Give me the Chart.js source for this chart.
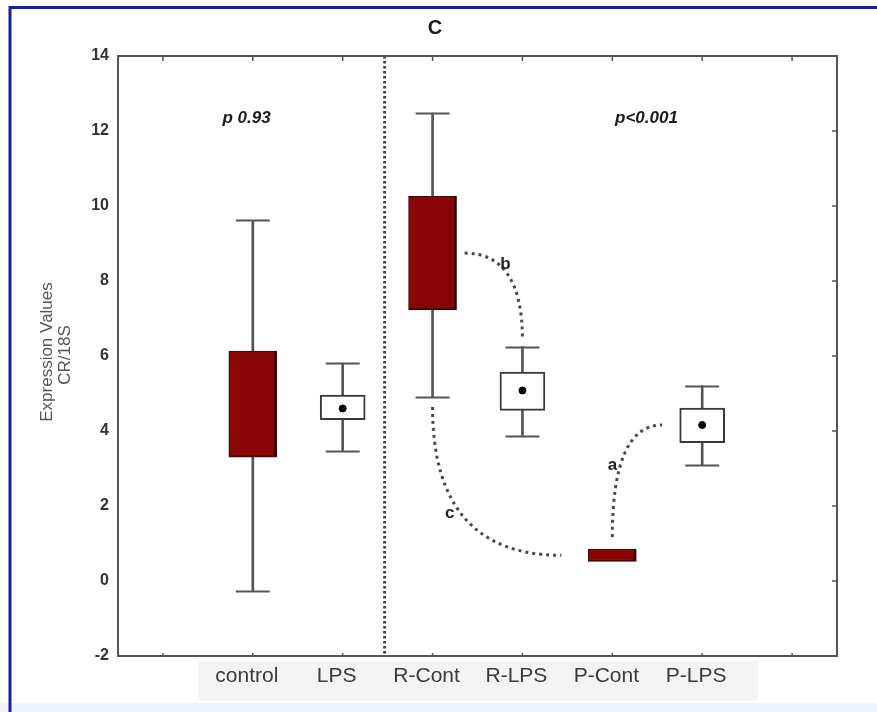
<!DOCTYPE html>
<html>
<head>
<meta charset="utf-8">
<script src="https://cdn.jsdelivr.net/npm/chart.js@4"></script>
<style>
  html, body { margin: 0; padding: 0; background: #fff; }
  canvas { display: block; }
</style>
</head>
<body>
<canvas id="boxChart" width="877" height="712"></canvas>
<script>
// categories (empty slots at both ends, like the original axis)
const categorias = ['', 'control', 'LPS', 'R-Cont', 'R-LPS', 'P-Cont', 'P-LPS', ''];
// whiskers
const minimos = [null, -0.27, 3.46, 4.91, 3.88, null, 3.09, null];
const maximos = [null, 9.62, 5.81, 12.48, 6.25, null, 5.21, null];
// boxes
const caixaBaixo = [null, 3.30, 4.30, 7.23, 4.55, 0.52, 3.69, null];
const caixaCima = [null, 6.13, 4.96, 10.26, 5.57, 0.85, 4.61, null];
// mean dot (only on the white boxes)
const medias = [null, null, 4.60, null, 5.08, null, 4.16, null];
// red (filled) or white box
const preenchida = [false, true, false, true, false, true, false, false];

const yTicks = [-2, 0, 2, 4, 6, 8, 10, 12, 14];
const titulo = 'C';
const tituloY = ['Expression Values', 'CR/18S'];
const pValores = ['p 0.93', 'p<0.001'];
const letras = ['b', 'c', 'a'];

const fonte = '"Liberation Sans", Arial, sans-serif';

const extras = {
  id: 'extras',
  beforeDraw(chart) {
    const c = chart.ctx;
    c.save();
    c.fillStyle = '#fff';
    c.fillRect(0, 0, chart.width, chart.height);
    // light band at the bottom
    c.fillStyle = '#eef3fb';
    c.fillRect(0, 703, chart.width, chart.height - 703);
    // grey band behind the category labels
    c.fillStyle = '#f3f3f3';
    c.fillRect(198, 661, 560, 39);
    // blue frame
    c.strokeStyle = '#1c1f9c';
    c.lineWidth = 3;
    c.beginPath();
    c.moveTo(10, chart.height);
    c.lineTo(10, 7.5);
    c.lineTo(chart.width, 7.5);
    c.stroke();
    c.restore();
  },
  afterDatasetsDraw(chart) {
    const c = chart.ctx;
    const a = chart.chartArea;
    const x = chart.scales.x;
    const y = chart.scales.y;
    c.save();

    // whisker caps
    c.strokeStyle = '#555';
    c.lineWidth = 2;
    for (let i = 0; i < categorias.length; i++) {
      if (minimos[i] == null) continue;
      const px = x.getPixelForValue(i);
      [minimos[i], maximos[i]].forEach(v => {
        const py = Math.round(y.getPixelForValue(v)) + 0.5;
        c.beginPath();
        c.moveTo(px - 17, py);
        c.lineTo(px + 17, py);
        c.stroke();
      });
    }

    // dotted connectors
    const rc = x.getPixelForValue(3);
    const rl = x.getPixelForValue(4);
    const pc = x.getPixelForValue(5);
    const pl = x.getPixelForValue(6);
    const curvas = [
      {
        s: { x: rc + 32, y: y.getPixelForValue((caixaBaixo[3] + caixaCima[3]) / 2) },
        e: { x: rl, y: y.getPixelForValue(maximos[4]) - 7 },
        ctrlHoriz: true, t: 0.33, dx: 9, dy: 2
      },
      {
        s: { x: rc, y: y.getPixelForValue(minimos[3]) + 10 },
        e: { x: pc - 51, y: y.getPixelForValue((caixaBaixo[5] + caixaCima[5]) / 2) },
        ctrlHoriz: false, t: 0.5, dx: -15, dy: -5
      },
      {
        s: { x: pc, y: y.getPixelForValue(caixaCima[5]) - 12 },
        e: { x: pl - 40, y: y.getPixelForValue(medias[6]) },
        ctrlHoriz: false, t: 0.35, dx: -6, dy: -7
      }
    ];
    c.strokeStyle = '#4a4a4a';
    c.lineWidth = 3;
    c.setLineDash([3, 4]);
    curvas.forEach((cv, k) => {
      const ctrl = cv.ctrlHoriz ? { x: cv.e.x, y: cv.s.y } : { x: cv.s.x, y: cv.e.y };
      c.beginPath();
      c.moveTo(cv.s.x, cv.s.y);
      c.quadraticCurveTo(ctrl.x, ctrl.y, cv.e.x, cv.e.y);
      c.stroke();
      const t = cv.t, u = 1 - t;
      const lx = u * u * cv.s.x + 2 * u * t * ctrl.x + t * t * cv.e.x;
      const ly = u * u * cv.s.y + 2 * u * t * ctrl.y + t * t * cv.e.y;
      c.save();
      c.setLineDash([]);
      c.fillStyle = '#222';
      c.font = 'bold 17px ' + fonte;
      c.textAlign = 'center';
      c.textBaseline = 'middle';
      c.fillText(letras[k], lx + cv.dx, ly + cv.dy);
      c.restore();
    });

    // vertical dotted divider between LPS and R-Cont
    const xd = (x.getPixelForValue(2) + x.getPixelForValue(3)) / 2 - 3;
    c.strokeStyle = '#444';
    c.lineWidth = 3;
    c.setLineDash([2.5, 2.5]);
    c.beginPath();
    c.moveTo(xd, a.top);
    c.lineTo(xd, a.bottom);
    c.stroke();
    c.setLineDash([]);

    // plot frame
    c.strokeStyle = '#555';
    c.lineWidth = 2;
    c.strokeRect(a.left, a.top, a.right - a.left, a.bottom - a.top);

    // inner tick marks
    c.lineWidth = 1.5;
    for (let i = 0; i < categorias.length; i++) {
      const px = x.getPixelForValue(i);
      c.beginPath();
      c.moveTo(px, a.top);
      c.lineTo(px, a.top + 5);
      c.moveTo(px, a.bottom);
      c.lineTo(px, a.bottom - 3);
      c.stroke();
    }
    yTicks.forEach(v => {
      const py = y.getPixelForValue(v);
      c.beginPath();
      c.moveTo(a.right, py);
      c.lineTo(a.right - 5, py);
      c.stroke();
    });

    // p-values
    c.fillStyle = '#1a1a1a';
    c.font = 'italic bold 17px ' + fonte;
    c.textAlign = 'center';
    c.textBaseline = 'middle';
    c.fillText(pValores[0], x.getPixelForValue(0.93), y.getPixelForValue(12.35));
    c.fillText(pValores[1], x.getPixelForValue(5.38), y.getPixelForValue(12.35));
    c.restore();
  },
  afterDraw(chart) {
    const c = chart.ctx;
    c.save();
    c.fillStyle = '#1a1a1a';
    c.font = 'bold 20px ' + fonte;
    c.textAlign = 'center';
    c.textBaseline = 'middle';
    c.fillText(titulo, 435, 28);

    c.fillStyle = '#555';
    c.font = '17px ' + fonte;
    c.translate(47, 352);
    c.rotate(-Math.PI / 2);
    c.fillText(tituloY[0], 0, 0);
    c.fillText(tituloY[1], -3, 18);
    c.restore();
  }
};

const dadosWhisker = categorias.map((_, i) => minimos[i] == null ? null : [minimos[i], maximos[i]]);
const dadosVermelho = categorias.map((_, i) => caixaBaixo[i] != null && preenchida[i] ? [caixaBaixo[i], caixaCima[i]] : null);
const dadosBranco = categorias.map((_, i) => caixaBaixo[i] != null && !preenchida[i] ? [caixaBaixo[i], caixaCima[i]] : null);

const ctx = document.getElementById('boxChart').getContext('2d');
new Chart(ctx, {
  type: 'bar',
  data: {
    labels: categorias,
    datasets: [
      {
        label: 'whisker',
        data: dadosWhisker,
        backgroundColor: '#555',
        barThickness: 2,
        grouped: false,
        order: 3
      },
      {
        label: 'caixa vermelha',
        data: dadosVermelho,
        backgroundColor: '#8a0505',
        borderColor: '#3a0808',
        borderWidth: { top: 1, left: 1, bottom: 2, right: 3 },
        borderSkipped: false,
        barThickness: 48,
        grouped: false,
        order: 2
      },
      {
        label: 'caixa branca',
        data: dadosBranco,
        backgroundColor: '#fff',
        borderColor: '#3a3a3a',
        borderWidth: 2,
        borderSkipped: false,
        barThickness: 45,
        grouped: false,
        order: 2
      },
      {
        type: 'line',
        label: 'media',
        data: medias,
        showLine: false,
        pointRadius: 3.5,
        pointBackgroundColor: '#000',
        pointBorderColor: '#000',
        order: 1
      }
    ]
  },
  options: {
    responsive: false,
    animation: false,
    layout: { padding: { left: 0, right: 40, top: 56, bottom: 0 } },
    plugins: {
      legend: { display: false },
      tooltip: { enabled: false }
    },
    scales: {
      x: {
        type: 'category',
        offset: true,
        grid: { display: false, drawTicks: false },
        border: { display: false },
        ticks: {
          color: '#3a3a3a',
          font: { family: fonte, size: 21 },
          padding: 8,
          labelOffset: -6,
          autoSkip: false,
          maxRotation: 0
        },
        afterFit(scale) { scale.height = 56; }
      },
      y: {
        min: -2,
        max: 14,
        grid: { display: false, drawTicks: false },
        border: { display: false },
        ticks: {
          stepSize: 2,
          color: '#333',
          font: { family: fonte, size: 16, weight: 'bold' },
          padding: 9
        },
        afterFit(scale) { scale.width = 118; }
      }
    }
  },
  plugins: [extras]
});
</script>
</body>
</html>
